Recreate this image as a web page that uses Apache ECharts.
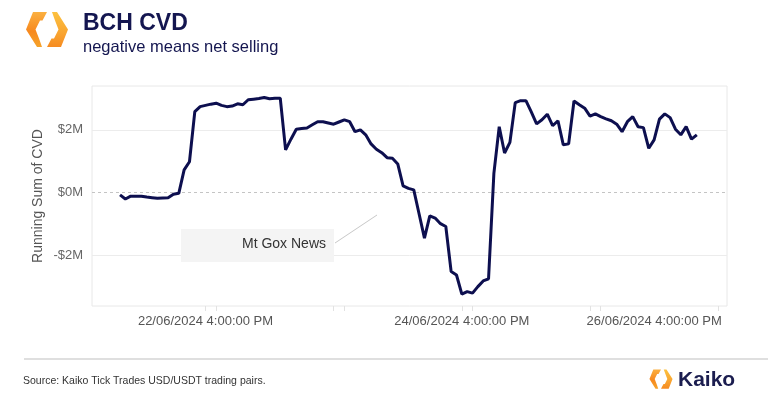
<!DOCTYPE html>
<html lang="en">
<head>
    <meta charset="UTF-8">
    <title>BCH CVD</title>
    <style>
        html, body { margin: 0; padding: 0; background: #fff; }
        #box { width: 768px; height: 399px; }
    </style>
</head>
<body>
    <div id="box"></div>
</body>
<script src="https://cdn.jsdelivr.net/npm/echarts@6/dist/echarts.min.js"></script>
<script>
    // hourly running sum of CVD ($M), starting 22/06/2024 00:00
    var cvd = [
        -0.08, -0.21, -0.12, -0.12, -0.12, -0.15, -0.17, -0.19, -0.18, -0.17,
        -0.06, -0.03, 0.72, 0.98, 2.58, 2.74, 2.78, 2.82, 2.85, 2.78,
        2.74, 2.76, 2.83, 2.80, 2.96, 2.98, 3.00, 3.03, 2.99, 3.01,
        3.01, 1.36, 1.70, 2.02, 2.04, 2.06, 2.16, 2.26, 2.26, 2.22,
        2.18, 2.25, 2.32, 2.26, 1.94, 2.00, 1.84, 1.55, 1.38, 1.27,
        1.11, 1.09, 0.91, 0.21, 0.13, 0.08, -0.69, -1.46, -0.75, -0.82,
        -1.00, -1.09, -2.53, -2.64, -3.25, -3.17, -3.22, -3.01, -2.83, -2.76,
        0.61, 2.10, 1.26, 1.60, 2.87, 2.93, 2.93, 2.57, 2.19, 2.32,
        2.50, 2.13, 2.29, 1.52, 1.55, 2.92, 2.80, 2.69, 2.44, 2.51,
        2.42, 2.35, 2.29, 2.18, 1.94, 2.26, 2.42, 2.10, 2.07, 1.41,
        1.68, 2.34, 2.51, 2.39, 2.02, 1.84, 2.10, 1.70, 1.84
    ];
    // x axis is hours since 22/06/2024 00:00
    var xTickHours = [16, 64, 112];
    var xTickLabels = ['22/06/2024 4:00:00 PM', '24/06/2024 4:00:00 PM', '26/06/2024 4:00:00 PM'];
    var xTickMarks = [16, 18, 40, 42, 64, 66, 88, 90, 112];
    var yTickValues = [-2, 0, 2];
    var yTickLabels = ['-$2M', '$0M', '$2M'];

    var navy = '#0d0f4f';

    function logo(x, y, s) {
        var left = [[-14, -17.5], [0, -17.5], [-4.5, -9], [-7, -9], [-11.5, 0], [-8, 9], [-5, 17.5], [-10, 17.5], [-21, 0]];
        var right = left.map(function (p) { return [-p[0], -p[1]]; });
        return {
            type: 'group', x: x, y: y, scaleX: s, scaleY: s,
            children: [
                {
                    type: 'polygon', shape: { points: left },
                    style: {
                        fill: new echarts.graphic.LinearGradient(0, 0, 0, 1, [
                            { offset: 0, color: '#fbb040' }, { offset: 0.55, color: '#f7891f' }, { offset: 1, color: '#f6a32a' }
                        ])
                    }
                },
                {
                    type: 'polygon', shape: { points: right },
                    style: {
                        fill: new echarts.graphic.LinearGradient(0, 0, 0, 1, [
                            { offset: 0, color: '#fcc13f' }, { offset: 0.6, color: '#f9a531' }, { offset: 1, color: '#f68b21' }
                        ])
                    }
                }
            ]
        };
    }

    var box = echarts.init(document.getElementById('box'));
    var option = {
        animation: false,
        backgroundColor: '#fff',
        textStyle: { fontFamily: 'Liberation Sans, Arial, sans-serif' },
        grid: {
            left: 92, right: 41, top: 86, bottom: 93,
            show: true, borderColor: '#e8e8e8', borderWidth: 1
        },
        xAxis: {
            type: 'value',
            min: -5.25,
            max: 113.65,
            axisLine: { show: false, onZero: false },
            splitLine: { show: false },
            axisTick: {
                show: true, length: 5, customValues: xTickMarks,
                lineStyle: { color: '#e2e2e2' }
            },
            axisLabel: {
                customValues: xTickHours,
                margin: 9,
                fontSize: 13,
                color: '#555',
                formatter: function (v) {
                    var i = xTickHours.indexOf(v);
                    var t = xTickLabels[i];
                    return i === xTickHours.length - 1 ? '{last|' + t + '}' : t;
                },
                rich: {
                    last: { fontSize: 13, color: '#555', padding: [0, 128, 0, 0] }
                }
            }
        },
        yAxis: {
            type: 'value',
            min: -3.63,
            max: 3.4,
            name: 'Running Sum of CVD',
            nameLocation: 'middle',
            nameGap: 47,
            nameMoveOverlap: false,
            nameTextStyle: { fontSize: 14, color: '#555' },
            axisLine: { show: false },
            axisTick: { show: false },
            splitLine: { show: false },
            axisLabel: {
                customValues: yTickValues,
                margin: 9,
                fontSize: 13,
                color: '#666',
                formatter: function (v) { return yTickLabels[yTickValues.indexOf(v)]; }
            }
        },
        series: [
            {
                name: 'CVD',
                type: 'line',
                data: cvd.map(function (v, i) { return [i, v]; }),
                showSymbol: false,
                lineStyle: { color: navy, width: 3 },
                itemStyle: { color: navy },
                z: 5,
                markLine: {
                    silent: true,
                    symbol: ['none', 'none'],
                    label: { show: false },
                    z: 1,
                    data: [
                        { yAxis: 2, lineStyle: { color: '#ececec', width: 1, type: 'solid' } },
                        { yAxis: -2, lineStyle: { color: '#ececec', width: 1, type: 'solid' } },
                        { yAxis: 0, lineStyle: { color: '#c4c4c4', width: 1, type: [3, 3] } }
                    ]
                }
            }
        ],
        graphic: [
            logo(47, 29.5, 1),
            {
                type: 'text', x: 83, y: 24,
                style: { text: 'BCH CVD', font: 'bold 23px Liberation Sans, Arial, sans-serif', fill: '#141650', textVerticalAlign: 'middle' }
            },
            {
                type: 'text', x: 83, y: 47.5,
                style: { text: 'negative means net selling', font: '16.5px Liberation Sans, Arial, sans-serif', fill: '#141650', textVerticalAlign: 'middle' }
            },
            // Mt Gox annotation
            {
                type: 'rect', shape: { x: 181, y: 229, width: 153, height: 33 },
                style: { fill: '#f4f4f4' }, z: 10
            },
            {
                type: 'text', x: 326, y: 244,
                style: { text: 'Mt Gox News', font: '14px Liberation Sans, Arial, sans-serif', fill: '#333', textAlign: 'right', textVerticalAlign: 'middle' }, z: 11
            },
            {
                type: 'line', shape: { x1: 335, y1: 243, x2: 377, y2: 215 },
                style: { stroke: '#c8c8c8', lineWidth: 1 }, z: 10
            },
            // footer
            {
                type: 'line', shape: { x1: 24, y1: 359, x2: 768, y2: 359 },
                style: { stroke: '#d4d4d4', lineWidth: 1.5 }
            },
            {
                type: 'text', x: 23, y: 381,
                style: { text: 'Source: Kaiko Tick Trades USD/USDT trading pairs.', font: '10.5px Liberation Sans, Arial, sans-serif', fill: '#333', textVerticalAlign: 'middle' }
            },
            logo(661, 379, 0.55),
            {
                type: 'text', x: 678, y: 380,
                style: { text: 'Kaiko', font: 'bold 21px Liberation Sans, Arial, sans-serif', fill: '#1b1d4f', textVerticalAlign: 'middle' }
            }
        ]
    };
    box.setOption(option);
</script>
</html>
